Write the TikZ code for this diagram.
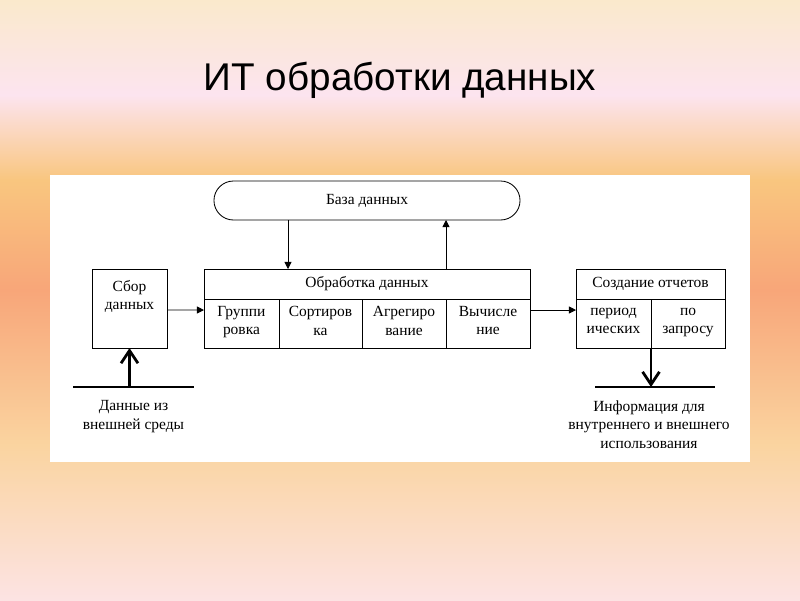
\documentclass[tikz,border=0pt]{standalone}
\usepackage{fontspec}
\setmainfont{Liberation Serif}
\newfontfamily\headfont{Liberation Sans}
\usepackage{xcolor}
\usepackage{tikz}
\usetikzlibrary{shapes.misc}
\usetikzlibrary{arrows.meta}
\usetikzlibrary{calc}
\usetikzlibrary{positioning}
\definecolor{bg-top}{HTML}{FAE9CC}
\definecolor{bg-pink}{HTML}{FCE4EF}
\definecolor{bg-orange}{HTML}{F9C67F}
\definecolor{bg-salmon}{HTML}{F8A679}
\definecolor{bg-light}{HTML}{FAD4A0}
\definecolor{bg-bot}{HTML}{FCE3E3}
\pgfdeclareverticalshading{slide-bg}{100bp}{color(0bp)=(bg-bot); color(25bp)=(bg-bot); color(37.92bp)=(bg-light); color(50.83bp)=(bg-salmon); color(60bp)=(bg-orange); color(67.08bp)=(bg-pink); color(75bp)=(bg-top); color(100bp)=(bg-top)}
\tikzset{node distance=0.6cm, every node/.append style={align=center, font={\fontsize{11}{13}\selectfont}}}
\tikzstyle{ln} = [draw, line width=0.6pt, -{Triangle[length=5pt,width=5pt]}]
\tikzstyle{thick-ln} = [draw, line width=2pt, -{Straight Barb[length=9pt,width=12pt]}]

\begin{document}
\begin{tikzpicture}[x=0.025cm, y=-0.025cm,
        main-block/.style={rectangle, draw=black, fill=white, line width=0.6pt, inner sep=0pt, outer sep=0pt, minimum height=0.75cm, execute at begin node=\strut, execute at end node=\strut},
        cell-block/.style={rectangle, draw=black, fill=white, line width=0.6pt, inner sep=0pt, outer sep=0pt, minimum height=1.225cm, execute at begin node=\strut, execute at end node=\strut},
        db-block/.style={rounded rectangle, draw=black, fill=white, line width=0.6pt, inner sep=0pt, outer sep=0pt, minimum width=7.65cm, minimum height=0.975cm, execute at begin node=\strut},
        bar/.style={draw, line width=2pt}
      ]
      % slide background
      \shade[shading=slide-bg] (0,0) rectangle (800,600);
      \useasboundingbox (0,0) rectangle (800,600);
      \fill[white] (50,175) rectangle (750,462);
      \node[anchor=base, font={\headfont\fontsize{27.5}{32}\selectfont}] (title) at (400,90) {ИТ обработки данных};

      \node[db-block]          (db) at (367,200.5)              {База данных};
      \node[main-block, minimum width=8.15cm] (proc) at (367,284) {Обработка данных};
      \node[cell-block, minimum width=1.875cm] (grp)[below right=0pt and 0pt of proc.south west] {Группи\\ровка};
      \node[cell-block, minimum width=2.075cm] (srt)[right=0pt of grp] {Сортиров\\ка};
      \node[cell-block, minimum width=2.1cm]   (agg)[right=0pt of srt] {Агрегиро\\вание};
      \node[cell-block, minimum width=2.1cm]   (cmp)[right=0pt of agg] {Вычисле\\ние};
      \node[main-block, minimum width=3.725cm] (rep) at (650.5,284) {Создание отчетов};
      \node[cell-block, minimum width=1.875cm] (per)[below right=0pt and 0pt of rep.south west] {период\\ических};
      \node[cell-block, minimum width=1.85cm]  (req)[right=0pt of per] {по\\запросу};
      \node[cell-block, minimum width=1.875cm, minimum height=1.975cm] (col) at (129.5,308.5) {};
      \node                    (col-txt)[below=0.15cm of col.north] {Сбор\\данных};

      \coordinate              (src) at (133.5,387);
      \coordinate              (dst) at (655,387);
      \node                    (src-txt)[below=0.22cm of src] {Данные из\\внешней среды};
      \node                    (dst-txt)[below=0.22cm of dst, xshift=-0.15cm] {Информация для\\внутреннего и внешнего\\использования};

      \draw[ln]                ($(db.south)+(-79,0)$)     --     ($(proc.north)+(-79,0)$);
      \draw[ln]                ($(proc.north)+(79,0)$)    --     ($(db.south)+(79,0)$);
      \draw[ln]                ($(col.east)+(0,1.5)$)     --     ($(grp.west)+(0,-13.5)$);
      \draw[ln]                ($(cmp.east)+(0,-13.5)$)   --     ($(per.west)+(0,-13.5)$);
      \draw[bar]               ($(src)+(-60.5,0)$)        --     ($(src)+(60.5,0)$);
      \draw[bar]               ($(dst)+(-60,0)$)          --     ($(dst)+(60,0)$);
      \draw[thick-ln]          ($(src)+(-4,0)$)           --     (col.south);
      \draw[thick-ln]          (per.south east)           --     ($(dst)+(-4,0)$);
    \end{tikzpicture}
\end{document}
